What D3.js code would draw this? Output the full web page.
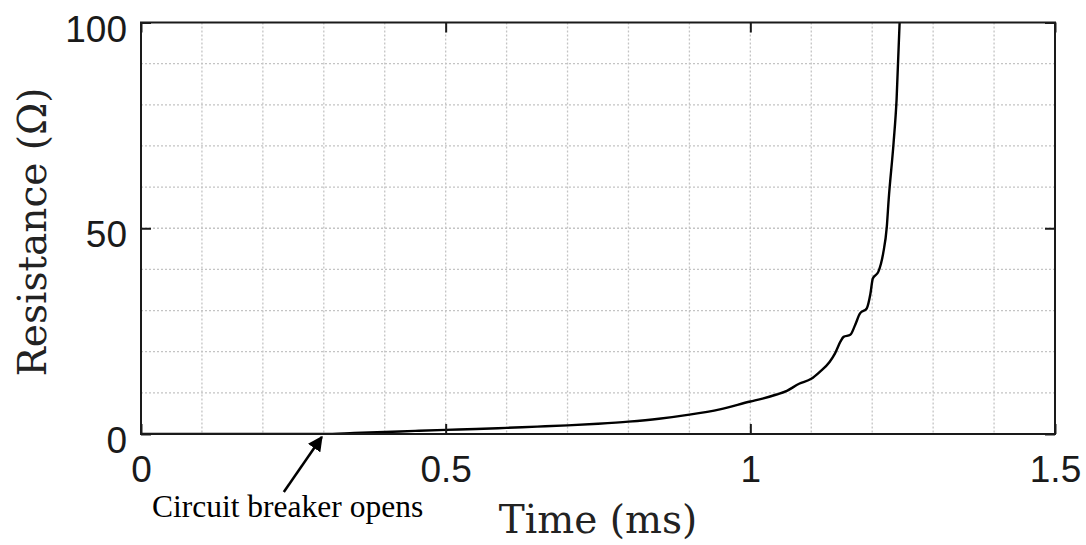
<!DOCTYPE html>
<html>
<head>
<meta charset="utf-8">
<script src="https://cdn.jsdelivr.net/npm/d3@7"></script>
<style>
body{margin:0;background:#fff;}
svg{display:block;}
</style>
</head>
<body>
<svg id="chart" width="1086" height="545"></svg>
<script>
const timeMs = [0, 0.3, 0.35, 0.4, 0.45, 0.5, 0.55, 0.6, 0.65, 0.7, 0.75, 0.8, 0.85, 0.9, 0.95, 1.0, 1.02, 1.043, 1.06, 1.08, 1.1, 1.114, 1.13, 1.139, 1.148, 1.153, 1.164, 1.172, 1.18, 1.191, 1.197, 1.201, 1.21, 1.218, 1.224, 1.227, 1.235, 1.24, 1.245];
const resistance = [0, 0, 0.25, 0.5, 0.75, 1.0, 1.2, 1.5, 1.8, 2.1, 2.5, 3.0, 3.7, 4.7, 6.0, 7.9, 8.6, 9.6, 10.5, 12.2, 13.4, 15.1, 17.5, 19.6, 22.5, 23.6, 24.1, 26.5, 29.3, 30.5, 34, 37.8, 39.4, 43.9, 50.4, 56.9, 70.6, 81.2, 100];
const xTicks = [0, 0.5, 1, 1.5];
const yTicks = [0, 50, 100];
const xGrid = [0.1,0.2,0.3,0.4,0.5,0.6,0.7,0.8,0.9,1.0,1.1,1.2,1.3,1.4];
const yGrid = [10,20,30,40,50,60,70,80,90];
const annotation = {text: "Circuit breaker opens", x: 0.3, y: 0};

const svg = d3.select("#chart");
const L = 141, T = 22.5, W = 914, H = 411.5;
const x = d3.scaleLinear().domain([0, 1.5]).range([L, L + W]);
const y = d3.scaleLinear().domain([0, 100]).range([T + H, T]);

// grid
const g = svg.append("g");
g.selectAll(".vg").data(xGrid).join("line")
  .attr("x1", d => x(d)).attr("x2", d => x(d)).attr("y1", T).attr("y2", T + H)
  .attr("stroke", "#c4c4c4").attr("stroke-width", 1.3).attr("stroke-dasharray", "2,2");
g.selectAll(".hg").data(yGrid).join("line")
  .attr("y1", d => y(d)).attr("y2", d => y(d)).attr("x1", L).attr("x2", L + W)
  .attr("stroke", "#c4c4c4").attr("stroke-width", 1.3).attr("stroke-dasharray", "2,2");

// curve
const data = timeMs.map((t, i) => [t, resistance[i]]);
svg.append("defs").append("clipPath").attr("id", "clip").append("rect")
  .attr("x", L).attr("y", T).attr("width", W).attr("height", H);
svg.append("path").datum(data)
  .attr("clip-path", "url(#clip)")
  .attr("fill", "none").attr("stroke", "#000").attr("stroke-width", 2.4)
  .attr("d", d3.line().x(d => x(d[0])).y(d => y(d[1])).curve(d3.curveMonotoneX));

// axes with inward ticks
const tickLen = 10;
const axB = d3.axisBottom(x).tickValues(xTicks).tickSizeInner(-tickLen).tickSizeOuter(0).tickPadding(22)
  .tickFormat(d => d3.format("")(d));
const axT = d3.axisTop(x).tickValues(xTicks).tickSizeInner(-tickLen).tickSizeOuter(0).tickFormat("");
const axL = d3.axisLeft(y).tickValues(yTicks).tickSizeInner(-tickLen).tickSizeOuter(0).tickPadding(14);
const axR = d3.axisRight(y).tickValues(yTicks).tickSizeInner(-tickLen).tickSizeOuter(0).tickFormat("");

function style(sel){
  sel.select(".domain").remove();
  sel.selectAll(".tick line").attr("stroke", "#1a1a1a").attr("stroke-width", 2);
  sel.selectAll(".tick text").attr("font-family", "Liberation Sans, Arial, sans-serif")
    .attr("font-size", 37).attr("fill", "#1a1a1a");
}
svg.append("g").attr("transform", `translate(0,${T + H})`).call(axB).call(style);
svg.append("g").attr("transform", `translate(0,${T})`).call(axT).call(style);
svg.append("g").attr("transform", `translate(${L},0)`).call(axL).call(style)
  .selectAll(".tick text").attr("dy", "0.5em");
svg.append("g").attr("transform", `translate(${L + W},0)`).call(axR).call(style);

// frame
svg.append("rect").attr("x", L).attr("y", T).attr("width", W).attr("height", H)
  .attr("fill", "none").attr("stroke", "#1a1a1a").attr("stroke-width", 2);

// axis labels
svg.append("text").attr("x", 598).attr("y", 533)
  .attr("text-anchor", "middle").attr("font-family", "DejaVu Serif, serif").attr("font-size", 39)
  .attr("fill", "#222").text("Time (ms)");
svg.append("text").attr("transform", "translate(46,232) rotate(-90)")
  .attr("text-anchor", "middle").attr("font-family", "DejaVu Serif, serif").attr("font-size", 39)
  .attr("fill", "#222").text("Resistance (Ω)");

// annotation
const defs = svg.select("defs");
defs.append("marker").attr("id", "arrow").attr("viewBox", "0 0 10 10").attr("refX", 9).attr("refY", 5)
  .attr("markerWidth", 6).attr("markerHeight", 6).attr("markerUnits", "strokeWidth").attr("orient", "auto")
  .append("path").attr("d", "M0,0 L10,5 L0,10 Z").attr("fill", "#000");
const tipX = x(annotation.x), tipY = y(annotation.y);
svg.append("line").attr("x1", tipX - 40).attr("y1", tipY + 58).attr("x2", tipX - 2).attr("y2", tipY + 3)
  .attr("stroke", "#000").attr("stroke-width", 2.5).attr("marker-end", "url(#arrow)");
svg.append("text").attr("x", 152).attr("y", 517)
  .attr("font-family", "Liberation Serif, Times New Roman, serif").attr("font-size", 31.5)
  .attr("fill", "#000").text(annotation.text);
</script>
</body>
</html>
